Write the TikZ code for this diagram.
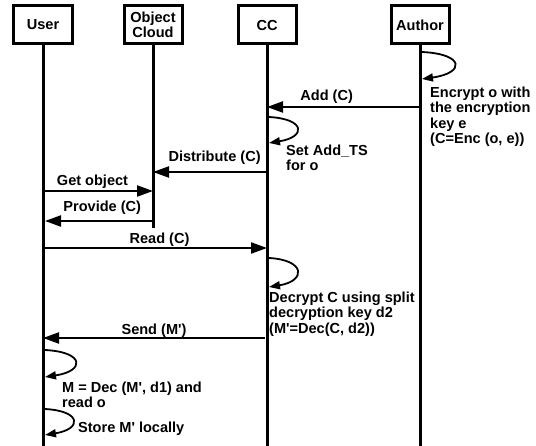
\documentclass[tikz,border=0pt]{standalone}
\usepackage{fontspec}
\newfontfamily\diagfont{Liberation Sans}
\usetikzlibrary{arrows.meta,positioning}

\begin{document}
\begin{tikzpicture}
    [x=1bp, y=-1bp, font=\diagfont\bfseries\fontsize{14.6}{15.5}\selectfont,
    % STYLES
    % The actor style is used to draw the boxes on top of the lifelines
    actor/.style={rectangle, draw, line width=3bp, minimum width=58bp, minimum height=38bp, inner sep=1bp, align=center},
    % The lifeline style is used for the vertical lines below the actors
    lifeline/.style={line width=3bp},
    % The msg style is used for the messages between two lifelines
    msg/.style={line width=2.2bp, -{Triangle[length=16bp,width=11bp]}},
    % The selfmsg style is used for the loops on one lifeline
    selfmsg/.style={line width=1.8bp, -{Triangle[length=11bp,width=8bp]}},
    % The note style is used for the texts next to the loops (placed at the baseline of their last line)
    note/.style={anchor=base west, inner sep=0pt, align=left}]

    \useasboundingbox (0,0) rectangle (536,446);

    % Draw actors
    \node [actor] (user) at (43,25) {User};
    \node [actor] (cloud) at (153,25) {Object\\Cloud};
    \node [actor] (cc) at (267,25) {CC};
    \node [actor] (author) at (420,25) {Author};

    % Ends of the lifelines
    \coordinate (user-end) at (43,446);
    \coordinate (cloud-end) at (153,228);
    \coordinate (cc-end) at (267,446);
    \coordinate (author-end) at (420,446);

    \path[lifeline]
    (user) edge (user-end)
    (cloud) edge (cloud-end)
    (cc) edge (cc-end)
    (author) edge (author-end);

    % Points on the lifelines
    \coordinate (a1) at (420,107);
    \coordinate (c1) at (267,107);
    \coordinate (c2) at (267,172);
    \coordinate (o2) at (153,172);
    \coordinate (u3) at (43,191);
    \coordinate (o3) at (153,191);
    \coordinate (o4) at (153,221);
    \coordinate (u4) at (45,221);
    \coordinate (u5) at (43,248);
    \coordinate (c5) at (267,248);
    \coordinate (c6) at (265,338);
    \coordinate (u6) at (43,338);

    % Draw messages
    \path[msg]
    (a1) edge node[pos=.61, anchor=base, yshift=6bp] {Add (C)} (c1)
    (c2) edge node[pos=.46, anchor=base, yshift=10bp] {Distribute (C)} (o2)
    (u3) edge node[pos=.45, anchor=base, yshift=5bp] {Get object} (o3)
    (o4) edge node[pos=.47, anchor=base, yshift=9bp] {Provide (C)} (u4)
    (u5) edge node[pos=.52, anchor=base, yshift=4bp] {Read (C)} (c5)
    (c6) edge node[pos=.5, anchor=base, yshift=4bp] {Send (M')} (u6);

    % Loops on one lifeline
    \coordinate (a0) at (422,52);
    \coordinate (a0b) at (422,79);
    \coordinate (c0) at (269,117);
    \coordinate (c0b) at (269,143);
    \coordinate (c7) at (269,258);
    \coordinate (c7b) at (269,287);
    \coordinate (u7) at (45,350);
    \coordinate (u7b) at (45,377);
    \coordinate (u8) at (45,409);
    \coordinate (u8b) at (45,435);

    \draw[selfmsg] (a0) .. controls +(43,2) and +(43,-6) .. (a0b);
    \draw[selfmsg] (c0) .. controls +(37,2) and +(37,-6) .. (c0b);
    \draw[selfmsg] (c7) .. controls +(37,2) and +(37,-6) .. (c7b);
    \draw[selfmsg] (u7) .. controls +(40,2) and +(40,-6) .. (u7b);
    \draw[selfmsg] (u8) .. controls +(37,2) and +(37,-6) .. (u8b);

    % Draw notes
    \node [note] (encrypt) at (430,143.5) {Encrypt o with\\the encryption\\key e\\(C=Enc (o, e))};
    \node [note] (addts) at (286,170.5) {Set Add\_TS\\for o};
    \node [note] (decrypt) at (269,333) {Decrypt C using split\\decryption key d2\\(M'=Dec(C, d2))};
    \node [note] (decode) at (62,407.5) {M = Dec (M', d1) and\\read o};
    \node [note] (store) at (78,432) {Store M' locally};
\end{tikzpicture}
\end{document}
